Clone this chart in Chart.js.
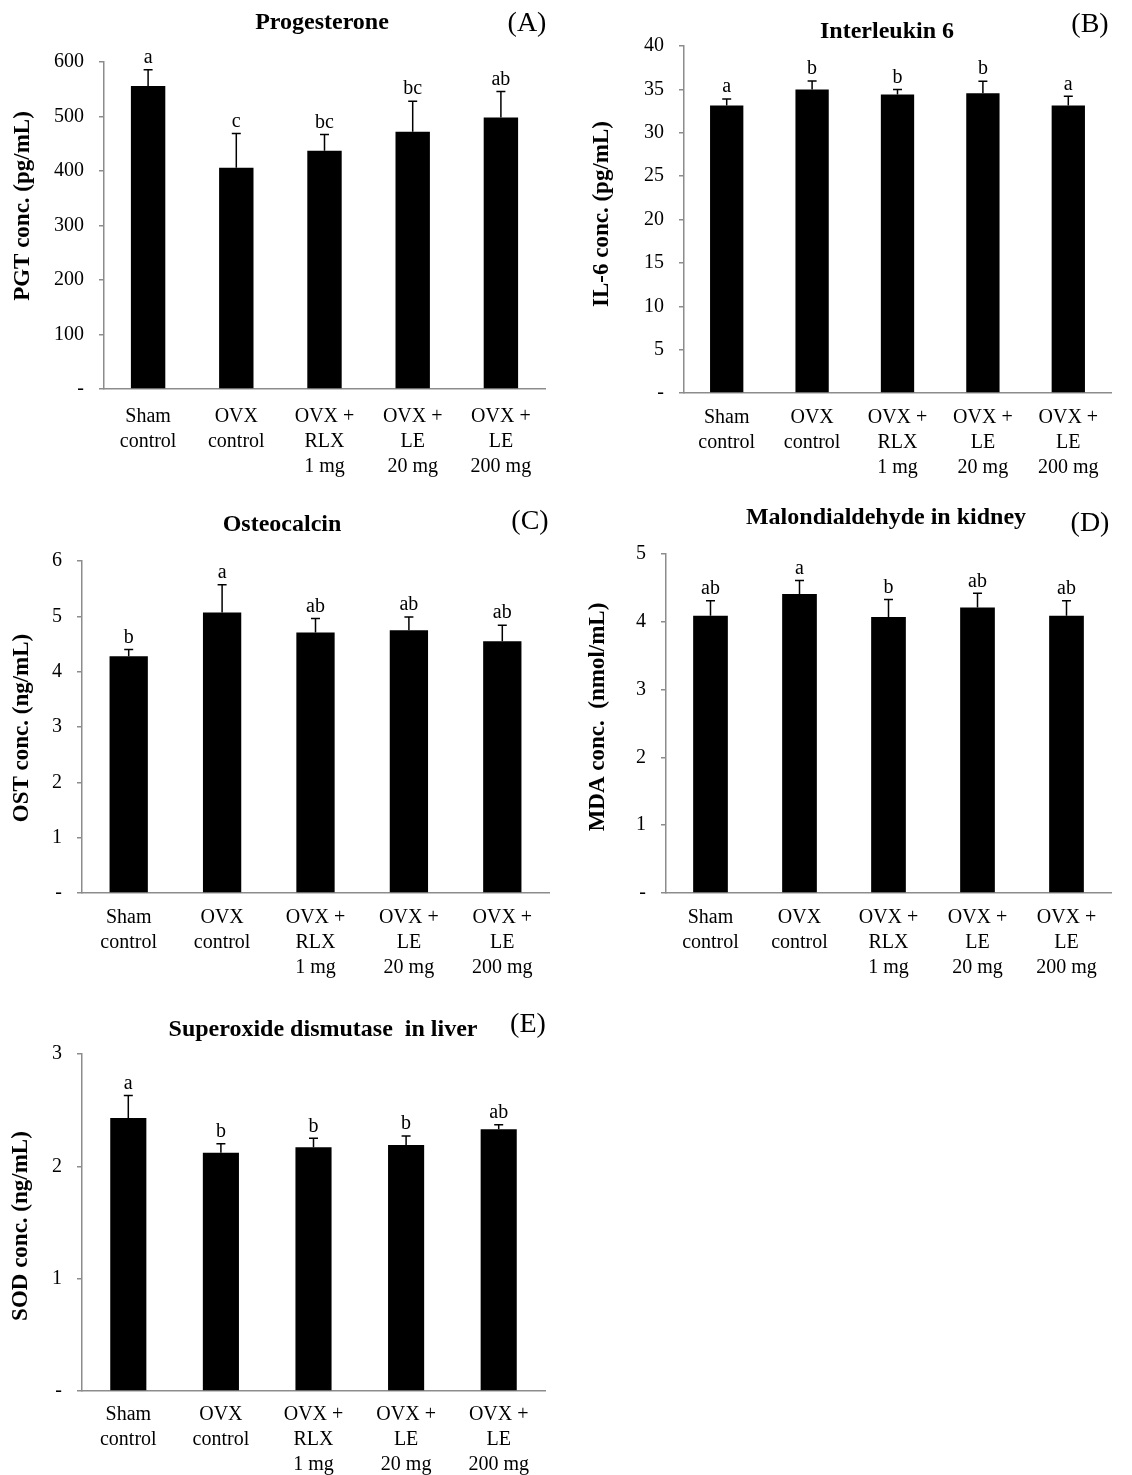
<!DOCTYPE html>
<html>
<head>
<meta charset="utf-8">
<script src="https://cdn.jsdelivr.net/npm/chart.js@4.4.0/dist/chart.umd.min.js"></script>
<style>
  body { margin: 0; background: #fff; }
  #wrap { position: relative; width: 1132px; height: 1475px; }
  #wrap canvas { position: absolute; }
</style>
</head>
<body>
<div id="wrap"></div>
<script>
// groups shared by all five panels
const groups = [['Sham', 'control'], ['OVX', 'control'], ['OVX +', 'RLX', '1 mg'], ['OVX +', 'LE', '20 mg'], ['OVX +', 'LE', '200 mg']];

// (A) progesterone
const pgtMean = [556, 406, 437, 472, 498];
const pgtErr = [30, 63, 30, 56, 48];
const pgtLetters = ['a', 'c', 'bc', 'bc', 'ab'];

// (B) interleukin 6
const il6Mean = [33.15, 35.0, 34.4, 34.55, 33.15];
const il6Err = [0.75, 0.96, 0.6, 1.4, 1.05];
const il6Letters = ['a', 'b', 'b', 'b', 'a'];

// (C) osteocalcin
const ostMean = [4.28, 5.07, 4.71, 4.75, 4.55];
const ostErr = [0.12, 0.5, 0.25, 0.24, 0.29];
const ostLetters = ['b', 'a', 'ab', 'ab', 'ab'];

// (D) malondialdehyde in kidney
const mdaMean = [4.09, 4.41, 4.07, 4.21, 4.09];
const mdaErr = [0.22, 0.2, 0.26, 0.21, 0.22];
const mdaLetters = ['ab', 'a', 'b', 'ab', 'ab'];

// (E) superoxide dismutase in liver
const sodMean = [2.43, 2.12, 2.17, 2.19, 2.33];
const sodErr = [0.2, 0.08, 0.08, 0.08, 0.04];
const sodLetters = ['a', 'b', 'b', 'b', 'ab'];

const serif = '"Liberation Serif", "Times New Roman", serif';
const axisGray = '#8c8c8c';

// error bar (upper only) + significance letters
const errorBars = {
  id: 'errorBars',
  afterDatasetsDraw(chart, args, opts) {
    const ctx = chart.ctx;
    const y = chart.scales.y;
    ctx.save();
    ctx.strokeStyle = '#000';
    ctx.lineWidth = 1.5;
    ctx.fillStyle = '#000';
    ctx.font = '20px ' + serif;
    ctx.textAlign = 'center';
    ctx.textBaseline = 'bottom';
    chart.getDatasetMeta(0).data.forEach((bar, i) => {
      const top = y.getPixelForValue(opts.mean[i] + opts.err[i]);
      ctx.beginPath();
      ctx.moveTo(bar.x, bar.y);
      ctx.lineTo(bar.x, top);
      ctx.moveTo(bar.x - 4.5, top);
      ctx.lineTo(bar.x + 4.5, top);
      ctx.stroke();
      ctx.fillText(opts.letters[i], bar.x, top - 2);
    });
    ctx.restore();
  }
};

// panel title, (A)-(E) tag and rotated y title
const panelText = {
  id: 'panelText',
  afterDraw(chart, args, o) {
    const ctx = chart.ctx;
    ctx.save();
    ctx.fillStyle = '#000';
    ctx.textAlign = 'center';
    ctx.textBaseline = 'middle';
    ctx.font = 'bold 24px ' + serif;
    ctx.fillText(o.title, o.titleAt[0], o.titleAt[1]);
    ctx.font = '28px ' + serif;
    ctx.fillText(o.tag, o.tagAt[0], o.tagAt[1]);
    ctx.translate(o.yTitleAt[0], o.yTitleAt[1]);
    ctx.rotate(-Math.PI / 2);
    ctx.font = 'bold 23px ' + serif;
    ctx.fillText(o.yTitle, 0, 0);
    ctx.restore();
  }
};

function makePanel(p) {
  const [bx, by, bw, bh] = p.box;
  const cv = document.createElement('canvas');
  cv.width = bw;
  cv.height = bh;
  cv.style.left = bx + 'px';
  cv.style.top = by + 'px';
  document.getElementById('wrap').appendChild(cv);

  const left = p.area[0] - bx, right = p.area[1] - bx;
  const top = p.area[2] - by, bottom = p.area[3] - by;
  const loc = pt => [pt[0] - bx, pt[1] - by];

  return new Chart(cv.getContext('2d'), {
    type: 'bar',
    data: {
      labels: groups,
      datasets: [{
        data: p.mean,
        backgroundColor: '#000',
        borderWidth: 0,
        barPercentage: p.barPct || 0.39,
        categoryPercentage: 1
      }]
    },
    options: {
      responsive: false,
      animation: false,
      layout: { padding: { left: 0, right: bw - right, top: top, bottom: 0 } },
      plugins: {
        legend: { display: false },
        tooltip: { enabled: false },
        errorBars: { mean: p.mean, err: p.err, letters: p.letters },
        panelText: {
          title: p.title, titleAt: loc(p.titleAt),
          tag: p.tag, tagAt: loc(p.tagAt),
          yTitle: p.yTitle, yTitleAt: loc(p.yTitleAt)
        }
      },
      scales: {
        x: {
          grid: { display: false, drawTicks: false },
          border: { display: true, color: axisGray, width: 1.5 },
          ticks: {
            color: '#000', padding: p.xPad, maxRotation: 0, autoSkip: false,
            font: { family: serif, size: 20, lineHeight: 1.25 }
          },
          afterFit: s => { s.height = bh - bottom; }
        },
        y: {
          min: 0,
          max: p.max,
          grid: { drawOnChartArea: false, drawTicks: true, tickLength: 5, color: axisGray, lineWidth: 1.5 },
          border: { display: true, color: axisGray, width: 1.5 },
          ticks: {
            stepSize: p.step, color: '#000', padding: 15,
            font: { family: serif, size: 20 },
            callback: v => (v === 0 ? '-' : v)
          },
          afterFit: s => { s.width = left; }
        }
      }
    },
    plugins: [errorBars, panelText]
  });
}

makePanel({
  box: [0, 0, 566, 500], area: [104, 545, 62, 389], xPad: 15,
  mean: pgtMean, err: pgtErr, letters: pgtLetters, max: 600, step: 100,
  title: 'Progesterone', titleAt: [322, 23], tag: '(A)', tagAt: [527, 24],
  yTitle: 'PGT conc. (pg/mL)', yTitleAt: [23, 206]
});

makePanel({
  box: [566, 0, 566, 500], area: [684, 1111, 46, 393], xPad: 12,
  mean: il6Mean, err: il6Err, letters: il6Letters, max: 40, step: 5,
  title: 'Interleukin 6', titleAt: [887, 32], tag: '(B)', tagAt: [1090, 25],
  yTitle: 'IL-6 conc. (pg/mL)', yTitleAt: [602, 214]
});

makePanel({
  box: [0, 500, 566, 500], area: [82, 549, 561, 893], barPct: 0.41, xPad: 12,
  mean: ostMean, err: ostErr, letters: ostLetters, max: 6, step: 1,
  title: 'Osteocalcin', titleAt: [282, 525], tag: '(C)', tagAt: [530, 522],
  yTitle: 'OST conc. (ng/mL)', yTitleAt: [22, 728]
});

makePanel({
  box: [566, 500, 566, 500], area: [666, 1111, 554, 893], xPad: 12,
  mean: mdaMean, err: mdaErr, letters: mdaLetters, max: 5, step: 1,
  title: 'Malondialdehyde in kidney', titleAt: [886, 518], tag: '(D)', tagAt: [1090, 524],
  yTitle: 'MDA conc.  (nmol/mL)', yTitleAt: [598, 717]
});

makePanel({
  box: [0, 1000, 566, 475], area: [82, 545, 1054, 1391], xPad: 11,
  mean: sodMean, err: sodErr, letters: sodLetters, max: 3, step: 1,
  title: 'Superoxide dismutase  in liver', titleAt: [323, 1030], tag: '(E)', tagAt: [528, 1025],
  yTitle: 'SOD conc. (ng/mL)', yTitleAt: [21, 1226]
});
</script>
</body>
</html>
